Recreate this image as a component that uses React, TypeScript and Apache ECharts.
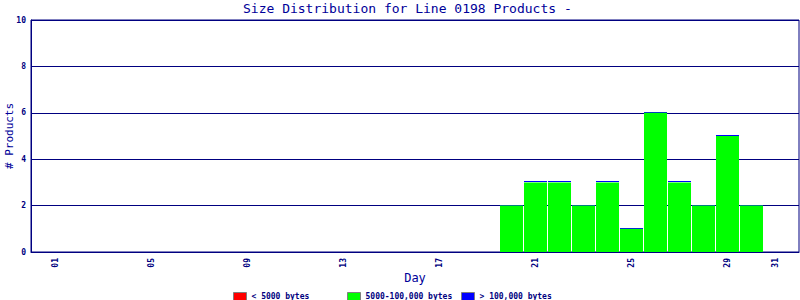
import React, { useEffect, useRef } from "react";
import * as echarts from "echarts";

const titleText = "Size Distribution for Line 0198 Products -";
const days = [20, 21, 22, 23, 24, 25, 26, 27, 28, 29, 30];
const smallFiles = [0, 0, 0, 0, 0, 0, 0, 0, 0, 0, 0];
const mediumFiles = [2, 3, 3, 2, 3, 1, 6, 3, 2, 5, 2];
const largeFiles = [0, 0, 0, 0, 0, 0, 0, 0, 0, 0, 0];
const dayTicks = [1, 5, 9, 13, 17, 21, 25, 29, 31];
const seriesNames = ["< 5000 bytes", "5000-100,000 bytes", "> 100,000 bytes"];

const NAVY = "#000080";
const MONO = "'DejaVu Sans Mono', 'Liberation Mono', monospace";

export default function App() {
  const ref = useRef<HTMLDivElement>(null);
  useEffect(() => {
    document.body.style.margin = "0";
    const chart = echarts.init(ref.current!, null, { renderer: "svg" });
    const legendAt = (name: string, left: number) => ({
      show: true,
      data: [{ name, icon: "rect", itemStyle: { color: name === seriesNames[2] ? "#0000ff" : undefined } }],
      left,
      top: 292,
      itemWidth: 13,
      itemHeight: 8,
      selectedMode: false,
      padding: 0,
      itemStyle: { borderColor: "#808080", borderWidth: 1 },
      textStyle: { fontSize: 8, color: NAVY, fontFamily: MONO, fontWeight: "bold" },
    });
    chart.setOption({
      animation: false,
      backgroundColor: "#ffffff",
      title: {
        text: titleText,
        left: 243,
        top: 2,
        padding: 0,
        textStyle: { fontSize: 13, fontWeight: "normal", color: "#000099", fontFamily: MONO },
      },
      legend: [
        legendAt(seriesNames[0], 233),
        legendAt(seriesNames[1], 347),
        legendAt(seriesNames[2], 461),
      ],
      grid: {
        left: 31,
        right: 1,
        top: 20,
        bottom: 48,
        outerBoundsMode: "none",
        containLabel: false,
        show: true,
        borderColor: NAVY,
        borderWidth: 1,
        backgroundColor: "transparent",
      },
      xAxis: {
        type: "value",
        min: -1 / 48,
        max: 32 - 1 / 48,
        name: "Day",
        nameLocation: "middle",
        nameGap: 20,
        nameMoveOverlap: false,
        nameTextStyle: { fontSize: 12, color: "#000099", fontFamily: MONO },
        axisLine: { show: true, lineStyle: { color: NAVY, width: 1 } },
        axisTick: { show: false },
        splitLine: { show: false },
        axisLabel: {
          customValues: dayTicks,
          rotate: 90,
          margin: 6,
          fontSize: 8,
          color: NAVY,
          fontFamily: MONO,
          fontWeight: "bold",
          formatter: (v: number) => String(Math.round(v)).padStart(2, "0"),
        },
      },
      yAxis: {
        type: "value",
        min: 0,
        max: 10,
        interval: 2,
        name: "# Products",
        nameLocation: "middle",
        nameGap: 16,
        nameMoveOverlap: false,
        nameTextStyle: { fontSize: 11, color: "#000099", fontFamily: MONO },
        axisLine: { show: true, lineStyle: { color: NAVY, width: 1 } },
        axisTick: { show: false },
        splitLine: { show: true, lineStyle: { color: NAVY, width: 1 } },
        axisLabel: {
          margin: 5,
          fontSize: 8,
          color: NAVY,
          fontFamily: MONO,
          fontWeight: "bold",
        },
      },
      series: [
        {
          name: seriesNames[0],
          type: "bar",
          stack: "size",
          barWidth: 23,
          data: days.map((d, i) => [d, smallFiles[i]]),
          itemStyle: { color: "#ff0000" },
        },
        {
          name: seriesNames[1],
          type: "bar",
          stack: "size",
          barWidth: 23,
          data: days.map((d, i) => [d, mediumFiles[i]]),
          itemStyle: { color: "#00ff00" },
        },
        {
          name: seriesNames[2],
          type: "custom",
          itemStyle: { color: "#0000ff" },
          data: days.map((d, i) => [d, smallFiles[i] + mediumFiles[i], largeFiles[i]]),
          renderItem: (params: any, api: any) => {
            const d = api.value(0);
            const base = api.value(1);
            const extra = api.value(2);
            const pBase = api.coord([d, base]);
            const pTop = api.coord([d, base + extra]);
            const w = api.size([1, 0])[0] * (23 / 24);
            const h = Math.max(Math.round(pBase[1] - pTop[1]), 1);
            return {
              type: "rect",
              shape: { x: pBase[0] - w / 2, y: Math.round(pBase[1]) - h, width: w, height: h },
              style: { fill: "#0000ff" },
            };
          },
        },
      ],
    });
    return () => chart.dispose();
  }, []);
  return <div ref={ref} style={{ width: 800, height: 300 }} />;
}
